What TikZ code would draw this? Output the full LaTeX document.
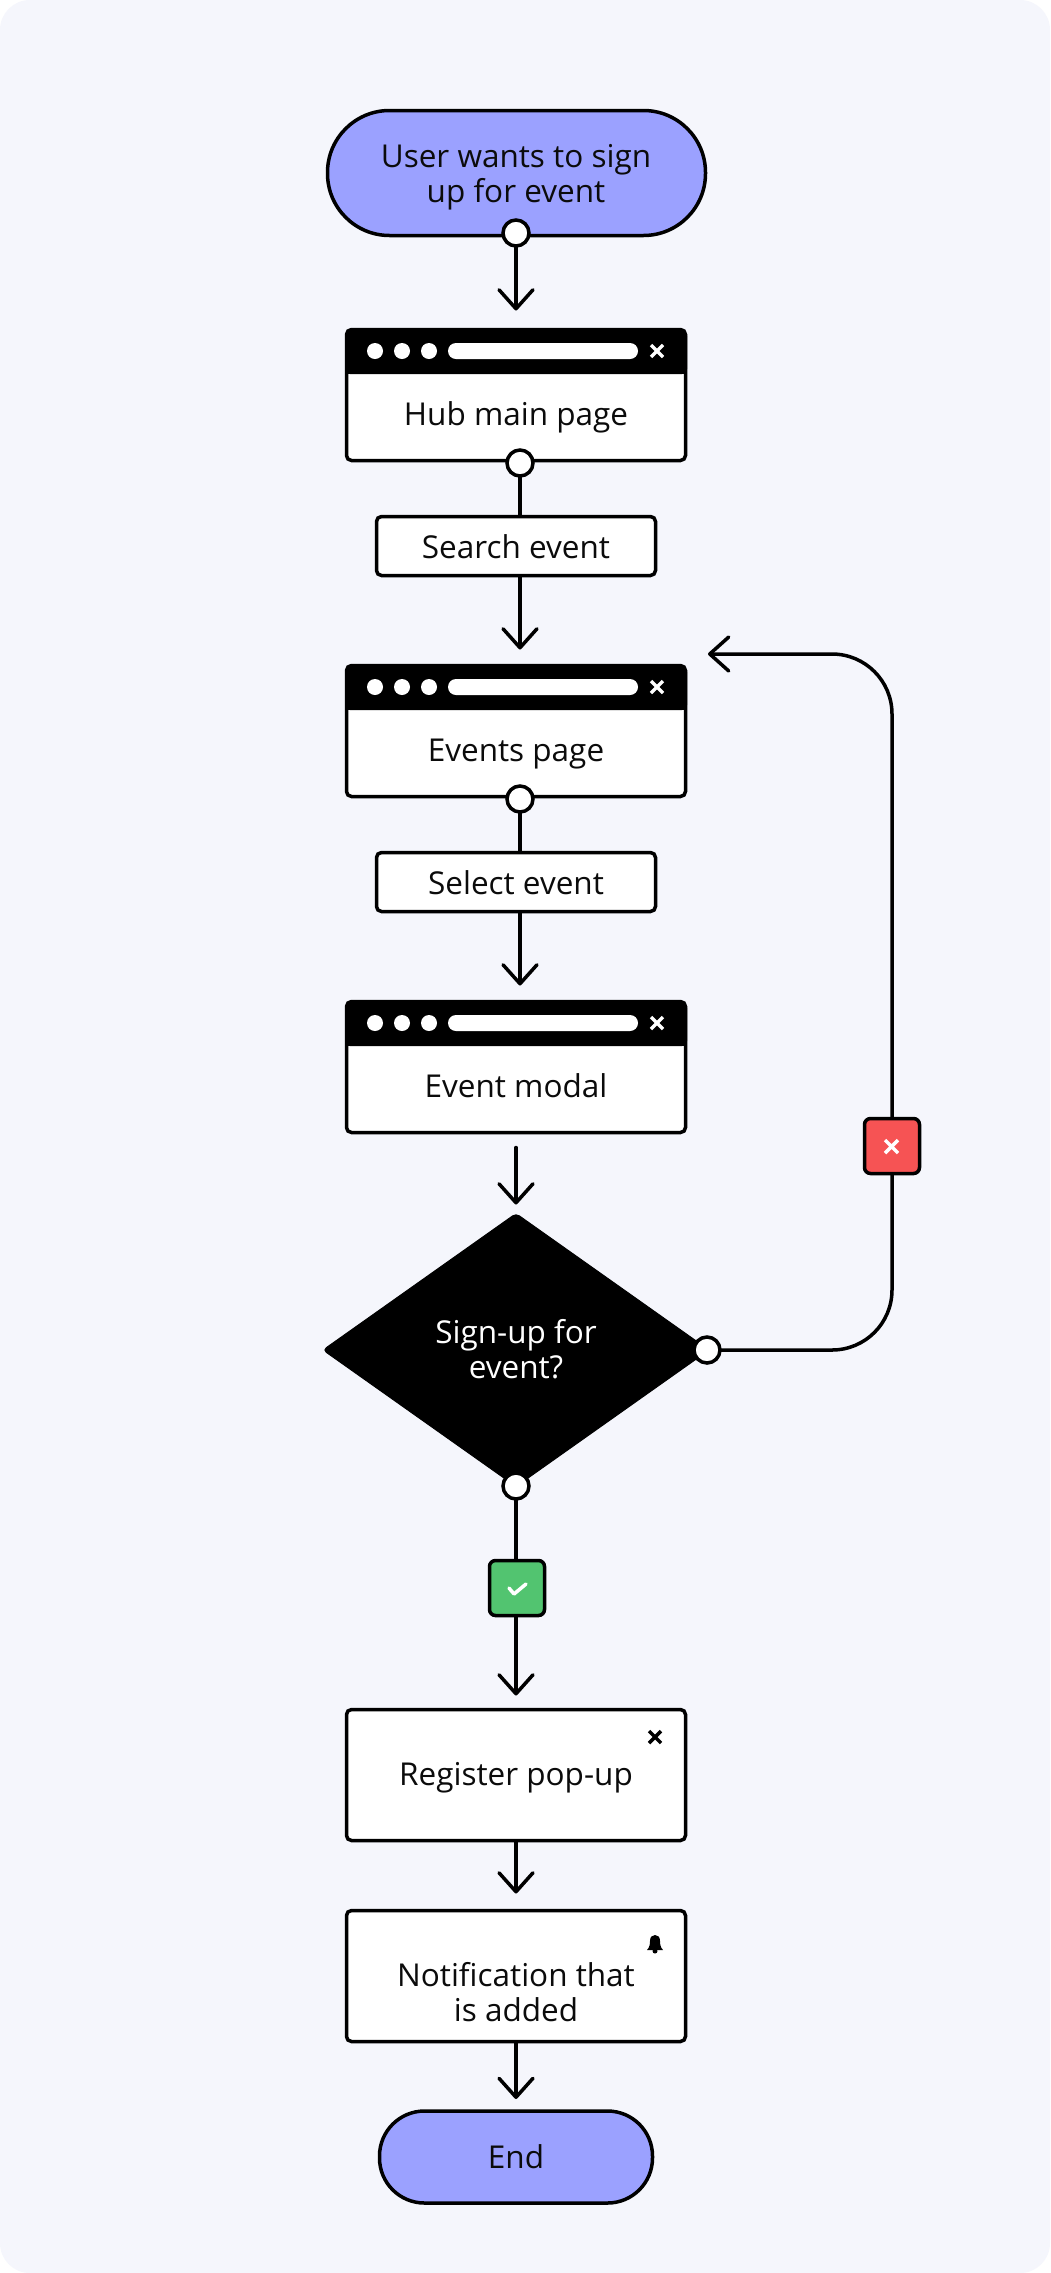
\documentclass[tikz,border=0pt]{standalone}
\usepackage{fontspec}
\setmainfont{Open Sans}
\usetikzlibrary{arrows.meta,shapes.geometric,positioning,calc}
\definecolor{pagebg}{HTML}{F5F6FC}
\definecolor{pillblue}{HTML}{9BA1FF}
\definecolor{okgreen}{HTML}{52C470}
\definecolor{nored}{HTML}{F65354}
\definecolor{ink}{HTML}{0B0B0B}
\pgfdeclarelayer{backdrop}
\pgfdeclarelayer{lines}
\pgfsetlayers{backdrop,lines,main}
\tikzset{
  every node/.style={outer sep=0pt,inner sep=0pt,text=ink,font=\fontsize{31.5}{35}\selectfont,align=center},
  caption/.style={anchor=base},
  pill/.style={draw=black,line width=3.5pt,fill=pillblue,rounded corners=#1},
  winbox/.style={draw=black,line width=3.5pt,fill=white,rounded corners=5pt,minimum width=339pt,minimum height=131pt},
  actbox/.style={draw=black,line width=3.5pt,fill=white,rounded corners=5pt,minimum width=279pt,minimum height=59pt},
  port/.style={circle,draw=black,line width=3.5pt,fill=white,minimum size=26pt},
  tagbox/.style={draw=black,line width=3.5pt,rounded corners=6pt,minimum size=55pt},
  decision/.style={diamond,aspect=1.41,fill=black,draw=black,line width=1pt,rounded corners=4pt,minimum width=386pt,minimum height=273pt},
  conn/.style={draw=black,line width=3.5pt},
  flow/.style={conn,-{Straight Barb[length=19pt,width=34pt,line width=3.5pt,round]},line cap=round},
}
\newcommand{\chrome}[1]{%
  \fill[black,rounded corners=5pt] ($(#1.north west)+(-1.5pt,-1.5pt)$) rectangle ($(#1.north east)+(1.5pt,-44.5pt)$);
  \fill[black] ($(#1.north west)+(-1.5pt,-30pt)$) rectangle ($(#1.north east)+(1.5pt,-44.5pt)$);
  \foreach \dx in {28.5,55.5,82.5} \fill[white] ($(#1.north west)+(\dx pt,-21.5pt)$) circle (8pt);
  \fill[white,rounded corners=8pt] ($(#1.north west)+(101.5pt,-13.5pt)$) rectangle ($(#1.north west)+(291.5pt,-29.5pt)$);
  \draw[white,line width=3.5pt] ($(#1.north west)+(304.5pt,-15.5pt)$) -- ++(12pt,-12pt) ($(#1.north west)+(316.5pt,-15.5pt)$) -- ++(-12pt,-12pt);
}
\begin{document}
\begin{tikzpicture}[x=1pt,y=-1pt]
\useasboundingbox (0,0) rectangle (1050,2273);
\begin{pgfonlayer}{backdrop}
  \fill[white] (0,0) rectangle (1050,2273);
  \fill[pagebg,rounded corners=30pt] (0,0) rectangle (1050,2273);
\end{pgfonlayer}

% terminals
\node[pill=62pt,minimum width=378pt,minimum height=125pt] (start) at (516.5,173) {};
\node[caption] (starttxt) at (516,202) {User wants to sign\\up for event};
\node[pill=45pt,minimum width=273pt,minimum height=92pt] (finish) at (516,2157) {};
\node[caption] (finishtxt) at (516,2168) {End};

% windows
\node[winbox] (hub) at (516,395) {};
\chrome{hub}
\node[caption] (hubtxt) at (516,425) {Hub main page};
\node[actbox] (search) at (516,546) {};
\node[caption] (searchtxt) at (516,558) {Search event};
\node[winbox] (events) at (516,731) {};
\chrome{events}
\node[caption] (eventstxt) at (516,761) {Events page};
\node[actbox] (select) at (516,882) {};
\node[caption] (selecttxt) at (516,894) {Select event};
\node[winbox] (modal) at (516,1067) {};
\chrome{modal}
\node[caption] (modaltxt) at (516,1097) {Event modal};

% decision
\node[decision] (dec) at (516,1350) {};
\node[caption,text=white] (dectxt) at (516,1378) {Sign-up for\\event?};

% plain boxes
\node[winbox] (reg) at (516,1775) {};
\node[caption] (regtxt) at (516,1785) {Register pop-up};
\draw[black,line width=3.5pt] (649,1731) -- ++(12,12) (661,1731) -- ++(-12,12);
\node[winbox] (note) at (516,1976) {};
\node[caption] (notetxt) at (516,2021) {Notification that\\is added};
\fill[black] (647,1950) .. controls (650,1947) and (650,1943) .. (650,1941)
   .. controls (650,1937) and (652,1935) .. (655,1935)
   .. controls (658,1935) and (660,1937) .. (660,1941)
   .. controls (660,1943) and (660,1947) .. (663,1950) -- cycle;
\fill[black] (655,1951) circle (2.5);

% tags
\node[tagbox,fill=okgreen] (yes) at (517,1588) {};
\draw[white,line width=3.5pt,line cap=round,line join=round] (509,1588) -- (514,1594) -- (526,1584);
\node[tagbox,fill=nored] (no) at (892,1146) {};
\draw[white,line width=3.5pt] (885,1140) -- ++(13,13) (898,1140) -- ++(-13,13);

% ports
\node[port] (p1) at (516,233) {};
\node[port] (p2) at (520,463) {};
\node[port] (p3) at (520,799) {};
\node[port] (p4) at (707,1350) {};
\node[port] (p5) at (516,1486) {};

\coordinate (backin) at (708,654);
\coordinate (corner) at (no |- backin);

\begin{pgfonlayer}{lines}
  \draw[flow,shorten >=19pt] (p1.center) -- (p1 |- hub.north);
  \draw[conn] (p2.center) -- (p2 |- search.north);
  \draw[flow,shorten >=16pt] (p2 |- search.south) -- (p2 |- events.north);
  \draw[conn] (p3.center) -- (p3 |- select.north);
  \draw[flow,shorten >=16pt] (p3 |- select.south) -- (p3 |- modal.north);
  \draw[flow,shorten <=15pt,shorten >=9pt] (modal.south) -- (dec.north);
  \draw[conn] (p5.center) -- (p5 |- yes.north);
  \draw[flow,shorten >=14pt] (p5 |- yes.south) -- (p5 |- reg.north);
  \draw[flow,shorten >=17pt] (p5 |- reg.south) -- (p5 |- note.north);
  \draw[flow,shorten >=12pt] (p5 |- note.south) -- (p5 |- finish.north);
  \draw[flow,rounded corners=60pt] (p4.center) -- (p4 -| no) -- (corner) -- (backin);
\end{pgfonlayer}
\end{tikzpicture}
\end{document}
